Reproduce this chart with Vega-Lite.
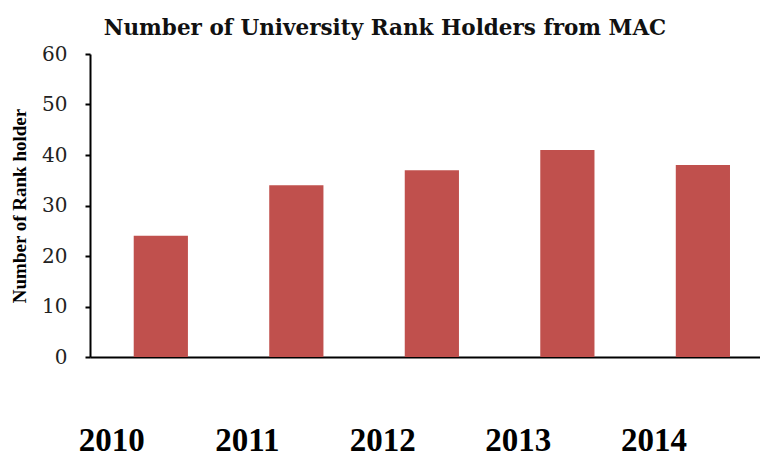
{
  "$schema": "https://vega.github.io/schema/vega-lite/v6.json",
  "width": 670,
  "height": 303,
  "autosize": {"type": "none"},
  "padding": {"left": 90, "top": 54, "right": 0, "bottom": 100},
  "background": "white",
  "config": {"view": {"stroke": null}},
  "title": {
    "text": "Number of University Rank Holders from MAC",
    "font": "DejaVu Serif",
    "fontWeight": "bold",
    "fontSize": 21.5,
    "color": "#111111",
    "anchor": "middle",
    "dx": -40,
    "offset": 5
  },
  "data": {
    "values": [
      {"year": "2010", "count": 24},
      {"year": "2011", "count": 34},
      {"year": "2012", "count": 37},
      {"year": "2013", "count": 41},
      {"year": "2014", "count": 38}
    ]
  },
  "mark": {"type": "bar", "color": "#C0504D"},
  "encoding": {
    "x": {
      "field": "year",
      "type": "ordinal",
      "scale": {"paddingInner": 0.6, "paddingOuter": 0.272, "align": 0.593},
      "axis": {
        "title": null,
        "labelAngle": 0,
        "ticks": false,
        "domainColor": "#000000",
        "domainWidth": 2,
        "labelFont": "Liberation Serif",
        "labelFontWeight": "bold",
        "labelFontSize": 33,
        "labelColor": "#000000",
        "labelBaseline": "top",
        "labelPadding": 67,
        "labelOffset": -49
      }
    },
    "y": {
      "field": "count",
      "type": "quantitative",
      "scale": {"domain": [0, 60], "nice": false},
      "axis": {
        "title": "Number of Rank holder",
        "titleFont": "Liberation Serif",
        "titleFontWeight": "bold",
        "titleFontSize": 19,
        "titleColor": "#000000",
        "titlePadding": 12,
        "values": [0, 10, 20, 30, 40, 50, 60],
        "grid": false,
        "domainColor": "#000000",
        "domainWidth": 2,
        "tickColor": "#000000",
        "tickSize": 5,
        "tickWidth": 2,
        "labelFont": "DejaVu Serif",
        "labelFontSize": 20,
        "labelColor": "#222222",
        "labelPadding": 18
      }
    }
  }
}
